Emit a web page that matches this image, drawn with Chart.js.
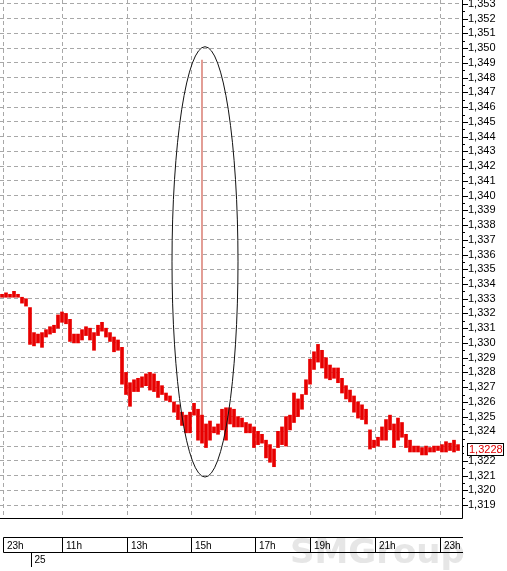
<!DOCTYPE html>
<html>
<head>
<meta charset="utf-8">
<script src="https://cdn.jsdelivr.net/npm/chart.js@4.4.0/dist/chart.umd.min.js"></script>
<style>
html,body{margin:0;padding:0;background:#fff;}
</style>
</head>
<body>
<canvas id="grafico" width="507" height="571"></canvas>
<script>
// maximos y minimos de cada barra (de izquierda a derecha)
var maximos = [1.3333,1.3334,1.3333,1.3335,1.3333,1.3331,1.3330,1.3324,1.3307,1.3306,
 1.3307,1.3309,1.3311,1.3312,1.3319,1.3321,1.3320,1.3316,1.3306,1.3306,
 1.3309,1.3311,1.3310,1.3307,1.3312,1.3314,1.3310,1.3307,1.3304,1.3302,
 1.3297,1.3280,1.3273,1.3275,1.3276,1.3277,1.3279,1.3280,1.3279,1.3274,
 1.3271,1.3266,1.3264,1.3260,1.3258,1.3253,1.3251,1.3253,1.3259,1.3255,
 1.3251,1.3245,1.3247,1.3243,1.3245,1.3255,1.3256,1.3256,1.3255,1.3250,
 1.3249,1.3246,1.3245,1.3243,1.3240,1.3238,1.3234,1.3231,1.3228,1.3240,
 1.3243,1.3250,1.3251,1.3266,1.3262,1.3265,1.3275,1.3289,1.3294,1.3299,
 1.3295,1.3290,1.3285,1.3283,1.3283,1.3276,1.3271,1.3268,1.3264,1.3260,
 1.3258,1.3255,1.3241,1.3234,1.3236,1.3243,1.3248,1.3251,1.3245,1.3249,
 1.3246,1.3238,1.3234,1.3230,1.3230,1.3229,1.3230,1.3229,1.3230,1.3230,
 1.3231,1.3233,1.3232,1.3234,1.3231];
var minimos = [1.3331,1.3331,1.3331,1.3331,1.3331,1.3327,1.3325,1.3299,1.3298,1.3300,
 1.3297,1.3304,1.3306,1.3307,1.3310,1.3314,1.3313,1.3301,1.3300,1.3300,
 1.3302,1.3305,1.3302,1.3295,1.3305,1.3308,1.3304,1.3301,1.3294,1.3295,
 1.3272,1.3265,1.3257,1.3267,1.3267,1.3270,1.3271,1.3268,1.3267,1.3263,
 1.3265,1.3261,1.3260,1.3253,1.3248,1.3244,1.3239,1.3239,1.3251,1.3234,
 1.3232,1.3229,1.3234,1.3239,1.3238,1.3241,1.3234,1.3245,1.3243,1.3243,
 1.3243,1.3239,1.3239,1.3229,1.3231,1.3232,1.3222,1.3219,1.3216,1.3229,
 1.3231,1.3230,1.3241,1.3246,1.3250,1.3255,1.3265,1.3272,1.3282,1.3287,
 1.3283,1.3276,1.3275,1.3276,1.3273,1.3266,1.3262,1.3260,1.3253,1.3249,
 1.3248,1.3245,1.3228,1.3229,1.3230,1.3234,1.3234,1.3241,1.3229,1.3234,
 1.3236,1.3229,1.3226,1.3226,1.3226,1.3224,1.3224,1.3226,1.3226,1.3227,
 1.3226,1.3226,1.3227,1.3226,1.3227];

// el pico de las 15h
var picoIndice = 50;
var picoRango = [1.3251, 1.3492];
var ultimoPrecio = 1.3228;

// eje de tiempo
var horas = ['23h','11h','13h','15h','17h','19h','21h','23h'];
var horasPos = [0.25, 15, 31.25, 47.25, 63.25, 77, 93.25, 109.5];
var dia = '25';
var diaPos = 7.25;

// eje de precios
var precios = [1.319,1.320,1.321,1.322,1.323,1.324,1.325,1.326,1.327,1.328,
 1.329,1.330,1.331,1.332,1.333,1.334,1.335,1.336,1.337,1.338,1.339,1.340,
 1.341,1.342,1.343,1.344,1.345,1.346,1.347,1.348,1.349,1.350,1.351,1.352,1.353];

// elipse que rodea el pico
var elipse = {xMin: 42.5, xMax: 59, yMin: 1.3209, yMax: 1.3501};

function coma(v, d){ return v.toFixed(d).replace('.', ','); }

var barras = [];
for (var i = 0; i < maximos.length; i++) {
  barras.push({x: i, y: [minimos[i], maximos[i]]});
}

var extras = {
  id: 'extras',
  beforeDraw: function(chart){
    var ctx = chart.ctx;
    ctx.save();
    ctx.font = 'bold 34px "DejaVu Sans"';
    ctx.fillStyle = '#e6e6e6';
    ctx.textBaseline = 'alphabetic';
    ctx.fillText('SMGroup', 290, 563, 200);
    ctx.restore();
  },
  afterDraw: function(chart){
    var ctx = chart.ctx, a = chart.chartArea;
    var sx = chart.scales.x, sy = chart.scales.y;
    ctx.save();
    ctx.strokeStyle = '#000';
    ctx.lineWidth = 1;
    // bordes
    ctx.beginPath();
    ctx.moveTo(a.right + 0.5, 0);
    ctx.lineTo(a.right + 0.5, a.bottom + 0.5);
    ctx.lineTo(0, a.bottom + 0.5);
    ctx.stroke();
    // marcas del eje de precios
    ctx.beginPath();
    precios.forEach(function(p){
      var py = Math.round(sy.getPixelForValue(p)) + 0.5;
      ctx.moveTo(a.right, py); ctx.lineTo(a.right + 6, py);
      var pm = Math.round(sy.getPixelForValue(p + 0.0005)) + 0.5;
      if (pm > 0) { ctx.moveTo(a.right, pm); ctx.lineTo(a.right + 3, pm); }
    });
    ctx.stroke();
    // franja de horas
    var x0 = Math.round(sx.getPixelForValue(horasPos[0])) + 0.5;
    ctx.beginPath();
    ctx.moveTo(x0, 537.5); ctx.lineTo(a.right + 1, 537.5);
    ctx.moveTo(x0, 552.5); ctx.lineTo(a.right + 1, 552.5);
    horasPos.forEach(function(h){
      var px = Math.round(sx.getPixelForValue(h)) + 0.5;
      ctx.moveTo(px, 537.5); ctx.lineTo(px, 552.5);
    });
    var dx = Math.round(sx.getPixelForValue(diaPos)) + 0.5;
    ctx.moveTo(dx, 552.5); ctx.lineTo(dx, 567);
    ctx.stroke();
    ctx.fillStyle = '#000';
    ctx.font = '10px "Liberation Sans"';
    ctx.textBaseline = 'top';
    ctx.fillText(dia, dx + 3, 555);
    // elipse
    var ex1 = sx.getPixelForValue(elipse.xMin), ex2 = sx.getPixelForValue(elipse.xMax);
    var ey1 = sy.getPixelForValue(elipse.yMax), ey2 = sy.getPixelForValue(elipse.yMin);
    ctx.beginPath();
    ctx.ellipse((ex1 + ex2) / 2, (ey1 + ey2) / 2, (ex2 - ex1) / 2, (ey2 - ey1) / 2, 0, 0, Math.PI * 2);
    ctx.strokeStyle = '#111';
    ctx.stroke();
    // ultimo precio
    var ly = Math.round(sy.getPixelForValue(ultimoPrecio));
    ctx.fillStyle = '#fff';
    ctx.fillRect(464, ly - 8, 43, 15);
    ctx.strokeStyle = '#000';
    ctx.strokeRect(467.5, ly - 5.5, 36, 12);
    ctx.fillStyle = '#e00000';
    ctx.font = '11px "Liberation Sans"';
    ctx.textBaseline = 'middle';
    ctx.fillText(coma(ultimoPrecio, 4), 469, ly + 1);
    ctx.restore();
  }
};

var config = {
  type: 'bar',
  data: {
    datasets: [{
      label: 'EUR/USD',
      data: barras,
      backgroundColor: '#e80000',
      borderWidth: 0,
      barThickness: 3,
      grouped: false
    }, {
      label: 'pico',
      data: [{x: picoIndice, y: picoRango}],
      backgroundColor: '#dd8a80',
      borderWidth: 0,
      barThickness: 1,
      grouped: false
    }]
  },
  options: {
    responsive: false,
    animation: false,
    layout: {padding: 0},
    plugins: {legend: {display: false}, tooltip: {enabled: false}},
    scales: {
      x: {
        type: 'linear',
        min: -0.5,
        max: 115,
        offset: false,
        grid: {color: '#a8a8a8', drawTicks: false, offset: false},
        border: {display: false, dash: [4, 3]},
        afterBuildTicks: function(s){ s.ticks = horasPos.map(function(v){ return {value: v}; }); },
        afterFit: function(s){ s.height = 53; s.paddingLeft = 0; s.paddingRight = 0; },
        ticks: {
          autoSkip: false,
          maxRotation: 0,
          align: 'start',
          labelOffset: 4,
          padding: 22,
          color: '#000',
          font: {family: 'Liberation Sans', size: 10},
          callback: function(v, i){ return horas[i]; }
        }
      },
      y: {
        position: 'right',
        min: 1.31812,
        max: 1.35327,
        grid: {color: '#a8a8a8', drawTicks: false},
        border: {display: false, dash: [4, 3]},
        afterBuildTicks: function(s){ s.ticks = precios.map(function(v){ return {value: v}; }); },
        afterFit: function(s){ s.width = 45; s.paddingTop = 0; s.paddingBottom = 0; },
        ticks: {
          autoSkip: false,
          padding: 6,
          color: '#000',
          font: {family: 'Liberation Sans', size: 11},
          callback: function(v){ return coma(v, 3); }
        }
      }
    }
  },
  plugins: [extras]
};

window.grafico = new Chart(document.getElementById('grafico').getContext('2d'), config);
</script>
</body>
</html>
